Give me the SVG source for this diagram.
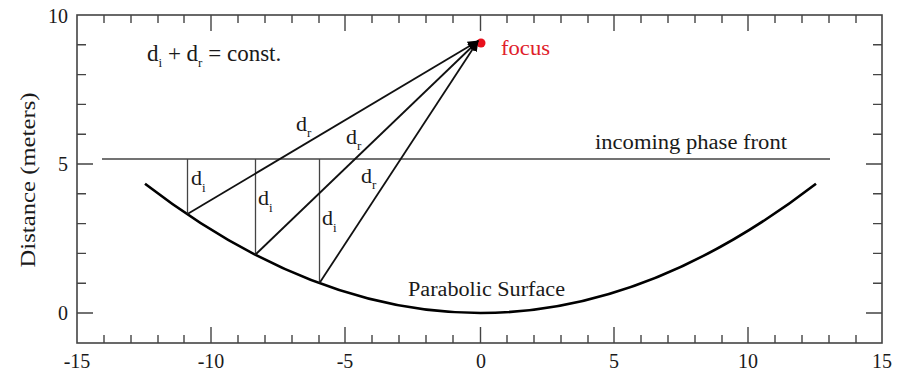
<svg xmlns="http://www.w3.org/2000/svg" width="897" height="371" viewBox="0 0 897 371" font-family="'Liberation Serif', 'Times New Roman', serif">
<style>
  .ax{stroke:#444;stroke-width:1.6;fill:none}
  .tk{stroke:#444;stroke-width:1.4}
  text{font-family:"Liberation Serif","Times New Roman",serif;fill:#1a1a1a}
  .lbl{font-size:20px}
  .num{font-size:20px}
  .dl{font-size:22px}
  .eq{font-size:23px}
  .sub{font-size:13px}
  .ray{stroke:#111;stroke-width:1.8;fill:none}
  .vert{stroke:#444;stroke-width:1.3}
</style>
<defs>
  <marker id="arr" markerUnits="userSpaceOnUse" markerWidth="12" markerHeight="10" refX="10" refY="5" orient="auto">
    <path d="M0,0 L11,5 L0,10 z" fill="#000"/>
  </marker>
</defs>
<rect width="897" height="371" fill="#fff"/>
<g id="axes">
  <rect class="ax" x="77" y="15" width="805" height="328"/>
  <path class="tk" d="M104,343v-8M131,343v-8M158,343v-8M184,343v-8M211,343v-16M238,343v-8M265,343v-8M292,343v-8M319,343v-8M345,343v-16M372,343v-8M399,343v-8M426,343v-8M453,343v-8M480.5,343v-16M507,343v-8M534,343v-8M561,343v-8M588,343v-8M614,343v-16M641,343v-8M668,343v-8M695,343v-8M722,343v-8M748,343v-16M775,343v-8M802,343v-8M829,343v-8M856,343v-8"/>
  <path class="tk" d="M104,15v8M131,15v8M158,15v8M184,15v8M211,15v16M238,15v8M265,15v8M292,15v8M319,15v8M345,15v16M372,15v8M399,15v8M426,15v8M453,15v8M480.5,15v16M507,15v8M534,15v8M561,15v8M588,15v8M614,15v16M641,15v8M668,15v8M695,15v8M722,15v8M748,15v16M775,15v8M802,15v8M829,15v8M856,15v8"/>
  <path class="tk" d="M77,313h16M77,283.2h9M77,253.4h9M77,223.6h9M77,193.8h9M77,164h16M77,134.2h9M77,104.4h9M77,74.6h9M77,44.8h9"/>
  <path class="tk" d="M882,313h-16M882,283.2h-9M882,253.4h-9M882,223.6h-9M882,193.8h-9M882,164h-16M882,134.2h-9M882,104.4h-9M882,74.6h-9M882,44.8h-9"/>
  <g class="num" text-anchor="middle">
    <text x="77" y="368">-15</text>
    <text x="211" y="368">-10</text>
    <text x="345" y="368">-5</text>
    <text x="481" y="368">0</text>
    <text x="614" y="368">5</text>
    <text x="748" y="368">10</text>
    <text x="882" y="368">15</text>
  </g>
  <g class="num" text-anchor="end">
    <text x="68" y="23">10</text>
    <text x="68" y="171">5</text>
    <text x="68" y="320">0</text>
  </g>
  <text class="lbl" transform="translate(35,180) rotate(-90)" text-anchor="middle" textLength="175" lengthAdjust="spacingAndGlyphs">Distance (meters)</text>
</g>
<g id="phase-front">
  <line x1="102" y1="159" x2="830" y2="159" stroke="#444" stroke-width="1.3"/>
  <text class="lbl" x="595" y="149" textLength="192" lengthAdjust="spacingAndGlyphs">incoming phase front</text>
</g>
<g id="parabolic-surface">
  <path d="M145,183.7 Q480.5,442.3 816,183.7" fill="none" stroke="#000" stroke-width="2.6"/>
  <text class="lbl" x="408" y="296" textLength="157" lengthAdjust="spacingAndGlyphs">Parabolic Surface</text>
</g>
<g id="focus">
  <circle cx="481" cy="43" r="4.5" fill="#e8101c"/>
  <text class="lbl" x="501" y="55" style="fill:#e0202a;font-size:21px" textLength="49" lengthAdjust="spacingAndGlyphs">focus</text>
</g>
<g id="equation">
  <text class="eq" x="147" y="61">d<tspan class="sub" dy="6">i</tspan><tspan dy="-6"> + d</tspan><tspan class="sub" dy="6">r</tspan><tspan dy="-6"> = const.</tspan></text>
</g>
<g id="connectors">
  <line class="vert" x1="187.5" y1="159" x2="187.5" y2="214"/>
  <line class="vert" x1="255.5" y1="159" x2="255.5" y2="254.5"/>
  <line class="vert" x1="319.5" y1="159" x2="319.5" y2="283"/>
  <line class="ray" x1="187.5" y1="214" x2="478" y2="41" marker-end="url(#arr)"/>
  <line class="ray" x1="255.5" y1="254.5" x2="478" y2="41" marker-end="url(#arr)"/>
  <line class="ray" x1="319.5" y1="283" x2="478" y2="41" marker-end="url(#arr)"/>
</g>
<g id="path-labels" class="dl">
  <text x="296" y="131">d<tspan class="sub" dy="6">r</tspan></text>
  <text x="346" y="144">d<tspan class="sub" dy="6">r</tspan></text>
  <text x="361" y="183">d<tspan class="sub" dy="6">r</tspan></text>
  <text x="191" y="185">d<tspan class="sub" dy="7">i</tspan></text>
  <text x="258" y="205">d<tspan class="sub" dy="7">i</tspan></text>
  <text x="322" y="225">d<tspan class="sub" dy="7">i</tspan></text>
</g>
</svg>
